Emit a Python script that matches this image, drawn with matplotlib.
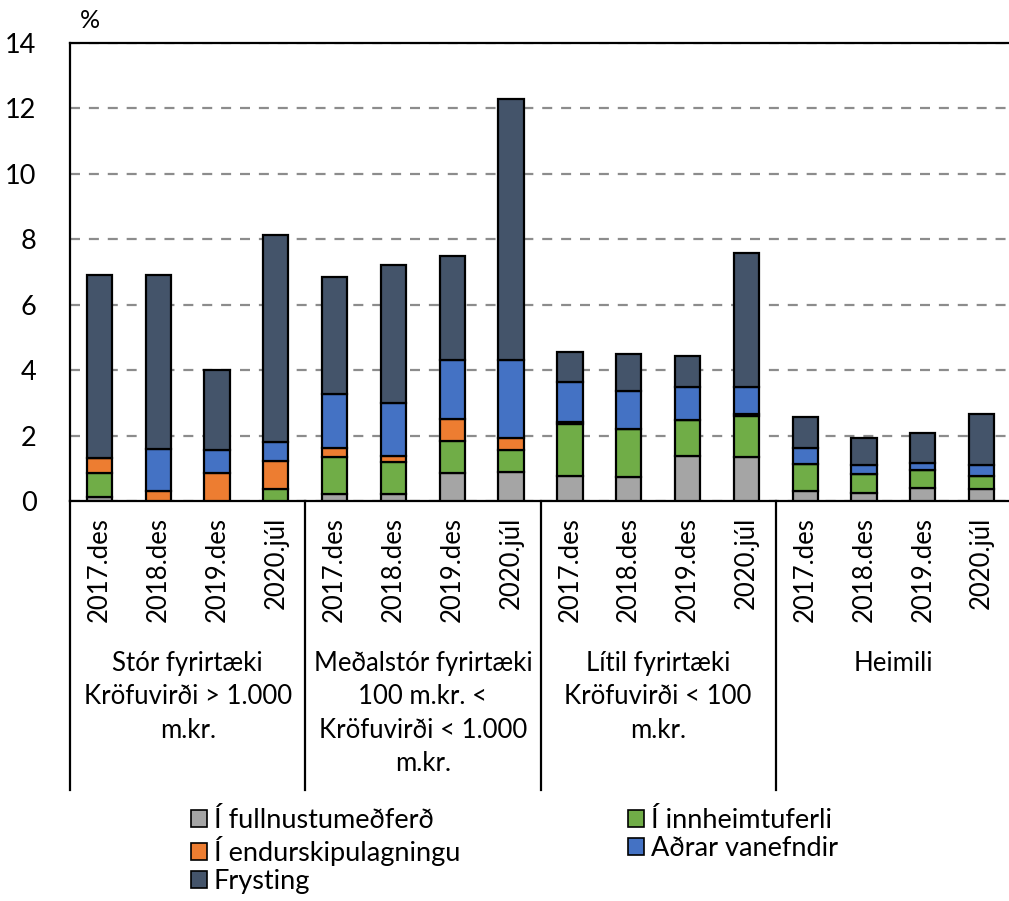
import matplotlib
matplotlib.use("Agg")
import matplotlib.pyplot as plt
from matplotlib.patches import Patch
from matplotlib.transforms import blended_transform_factory
import numpy as np

plt.rcParams.update({"font.family": ["Lato", "DejaVu Sans"], "font.size": 18})

periods = ["2017.des", "2018.des", "2019.des", "2020.júl"]
groups = ["Stór fyrirtæki\nKröfuvirði > 1.000\nm.kr.",
          "Meðalstór fyrirtæki\n100 m.kr. <\nKröfuvirði < 1.000\nm.kr.",
          "Lítil fyrirtæki\nKröfuvirði < 100\nm.kr.",
          "Heimili"]

# one value per bar, groups in order: Stór, Meðalstór, Lítil, Heimili
fullnusta = [0.13, 0.00, 0.00, 0.00,  0.21, 0.21, 0.87, 0.90,  0.77, 0.74, 1.38, 1.35,  0.32, 0.24, 0.41, 0.36]
innheimta = [0.74, 0.00, 0.00, 0.37,  1.15, 0.99, 0.97, 0.66,  1.58, 1.46, 1.10, 1.25,  0.81, 0.59, 0.54, 0.40]
endurskip = [0.43, 0.30, 0.87, 0.85,  0.25, 0.18, 0.66, 0.36,  0.08, 0.00, 0.00, 0.05,  0.00, 0.00, 0.00, 0.00]
adrar     = [0.00, 1.28, 0.69, 0.59,  1.65, 1.63, 1.81, 2.39,  1.22, 1.17, 0.99, 0.85,  0.50, 0.26, 0.22, 0.34]
frysting  = [5.61, 5.32, 2.43, 6.33,  3.58, 4.19, 3.18, 7.97,  0.90, 1.11, 0.97, 4.08,  0.95, 0.83, 0.92, 1.55]

series = [("Í fullnustumeðferð", fullnusta, "#a5a5a5"),
          ("Í innheimtuferli", innheimta, "#70ad47"),
          ("Í endurskipulagningu", endurskip, "#ed7d31"),
          ("Aðrar vanefndir", adrar, "#4472c4"),
          ("Frysting", frysting, "#44546a")]

W, H = 1009, 901
fig = plt.figure(figsize=(W / 100, H / 100), dpi=100)
ax = fig.add_axes([70 / W, 1 - 501 / H, (1011 - 70) / W, (501 - 43) / H])

n = len(fullnusta)
x = np.arange(n)
bottom = np.zeros(n)
for name, vals, col in series:
    ax.bar(x, vals, bottom=bottom, width=0.43, color=col, edgecolor="black",
           linewidth=1.6, zorder=3)
    bottom += np.array(vals)

ax.set_xlim(-0.5, n - 0.5)
ax.set_ylim(0, 14)
ax.set_yticks(np.arange(0, 15, 2))
ax.tick_params(axis="y", length=0, pad=24, labelsize=19.5)
ax.set_xticks([])
ax.yaxis.grid(True, color="#8c8c8c", linestyle=(0, (4.5, 4)), linewidth=1.6, zorder=0)
for s in ["left", "top", "bottom"]:
    ax.spines[s].set_linewidth(1.6)
ax.spines["right"].set_visible(False)
ax.text(80 / W, 1 - 20 / H, "%", transform=fig.transFigure, fontsize=18,
        ha="left", va="center")

# two-level category axis below the bars
tr = blended_transform_factory(ax.transData, fig.transFigure)
for i in range(n):
    ax.text(x[i], 1 - 517 / H, periods[i % 4], transform=tr, rotation=90,
            ha="center", va="top", fontsize=18.5)
for g, lab in enumerate(groups):
    ax.text(g * 4 + 1.5, 1 - 651 / H, lab, transform=tr, ha="center", va="top",
            fontsize=18.5, linespacing=1.42)
    xs = g * 4 - 0.5
    ax.plot([xs, xs], [1 - 501 / H, 1 - 790 / H], transform=tr, color="black",
            linewidth=1.6, clip_on=False)

handles = {name: Patch(facecolor=col, edgecolor="black", linewidth=1.2)
           for name, _, col in series}
order = ["Í fullnustumeðferð", "Í endurskipulagningu", "Frysting",
         "Í innheimtuferli", "Aðrar vanefndir"]
fig.legend([handles[k] for k in order], order, ncol=2, frameon=False,
           loc="upper left", bbox_to_anchor=(180 / W, 1 - 797 / H),
           handlelength=0.6, handleheight=0.6, handletextpad=0.25,
           labelspacing=0.12, columnspacing=6.2, fontsize=19.5, borderaxespad=0)

fig.savefig("out.png", dpi=100)
